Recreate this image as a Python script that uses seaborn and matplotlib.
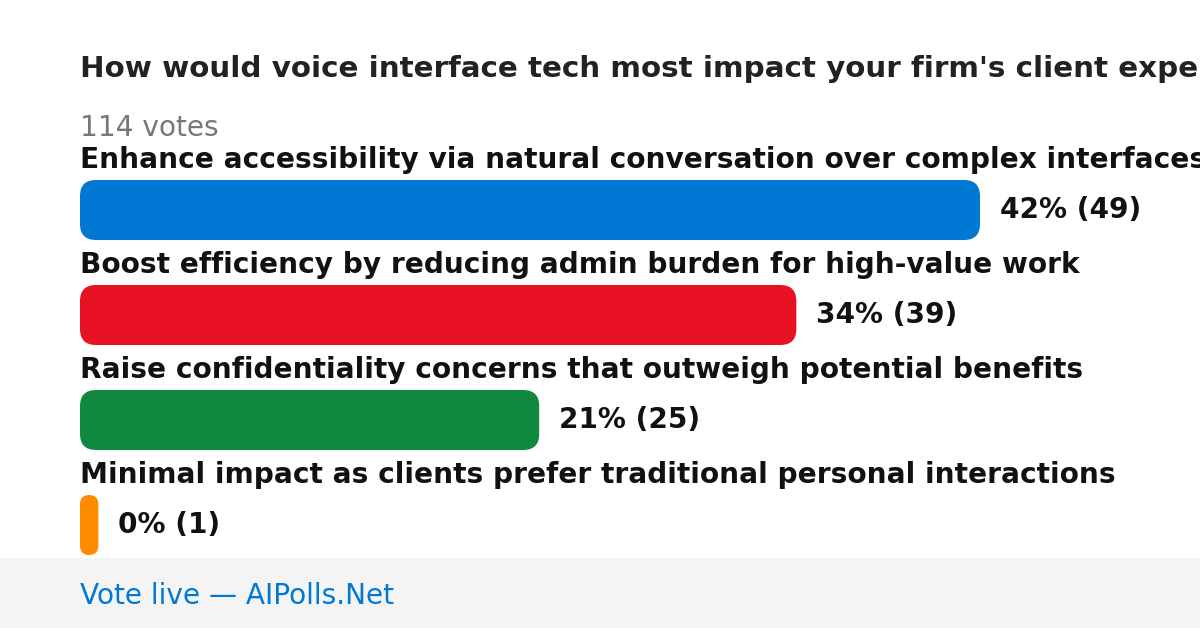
import os
import matplotlib
matplotlib.use("Agg")
import matplotlib.pyplot as plt
import seaborn as sns
import pandas as pd
from matplotlib.patches import FancyBboxPatch, Rectangle
from matplotlib.font_manager import FontProperties

# poll data
title = "How would voice interface tech most impact your firm's client experience?"
options = [
    "Enhance accessibility via natural conversation over complex interfaces",
    "Boost efficiency by reducing admin burden for high-value work",
    "Raise confidentiality concerns that outweigh potential benefits",
    "Minimal impact as clients prefer traditional personal interactions",
]
votes = [49, 39, 25, 1]
colors = ["#0078d4", "#e81224", "#10893e", "#ff8c00"]
total_votes = 114
footer = "Vote live \u2014 AIPolls.Net"

W, H = 1200, 628
FS = 20.2       # ~28px text
FS_TITLE = 21.2

sns.set_theme(style="white")
plt.rcParams["font.family"] = ["DejaVu Sans"]

# use matplotlib's bundled DejaVu files directly
ttf_dir = os.path.join(matplotlib.get_data_path(), "fonts", "ttf")
reg = FontProperties(fname=os.path.join(ttf_dir, "DejaVuSans.ttf"), size=FS)
bold = FontProperties(fname=os.path.join(ttf_dir, "DejaVuSans-Bold.ttf"), size=FS)
title_font = FontProperties(fname=os.path.join(ttf_dir, "DejaVuSans-Bold.ttf"), size=FS_TITLE)

fig = plt.figure(figsize=(W / 100, H / 100), dpi=100)
fig.patch.set_facecolor("white")

# bars area: x 80..980 px, categories 105 px apart starting at 157.5 px
ax = fig.add_axes([80 / W, (H - 577.5) / H, 900 / W, 420 / H])
df = pd.DataFrame({"option": options, "votes": votes})
sns.barplot(data=df, x="votes", y="option", hue="option", palette=colors,
            saturation=1, orient="h", width=60 / 105, legend=False, ax=ax)
ax.set_xlim(0, max(votes))
ax.set_ylim(len(options) - 0.5, -0.5)
ax.axis("off")

# swap plain bars for rounded ones
fig.canvas.draw()
for p in list(ax.patches):
    bb = p.get_window_extent()
    r = min(16, bb.width / 2, bb.height / 2)
    fb = FancyBboxPatch((bb.x0 + r, bb.y0 + r), bb.width - 2 * r, bb.height - 2 * r,
                        boxstyle=f"round,pad={r}", transform=None,
                        facecolor=p.get_facecolor(), edgecolor="none")
    fig.patches.append(fb)
    p.set_visible(False)

for i, (opt, v) in enumerate(zip(options, votes)):
    ax.text(0, i - 0.5 + 10.5 / 105, opt, fontproperties=bold,
            color="#111111", ha="left", va="baseline", clip_on=False)
    pct = int(v * 100 / total_votes)
    ax.annotate(f"{pct}% ({v})", xy=(v, i), xytext=(20, 0), textcoords="offset pixels",
                fontproperties=bold, color="#111111",
                ha="left", va="center", annotation_clip=False)

# header
fig.text(80 / W, 1 - 77 / H, title, fontproperties=title_font,
         color="#222222", ha="left", va="baseline")
fig.text(80 / W, 1 - 136 / H, f"{total_votes} votes", fontproperties=reg,
         color="#777777", ha="left", va="baseline")

# footer band
fig.patches.append(Rectangle((0, 0), 1, 70 / H, transform=fig.transFigure,
                             facecolor="#f4f4f4", edgecolor="none", zorder=0))
fig.text(80 / W, 1 - 604 / H, footer, fontproperties=reg, color="#0078d4",
         ha="left", va="baseline")

fig.savefig("out.png", dpi=100)
